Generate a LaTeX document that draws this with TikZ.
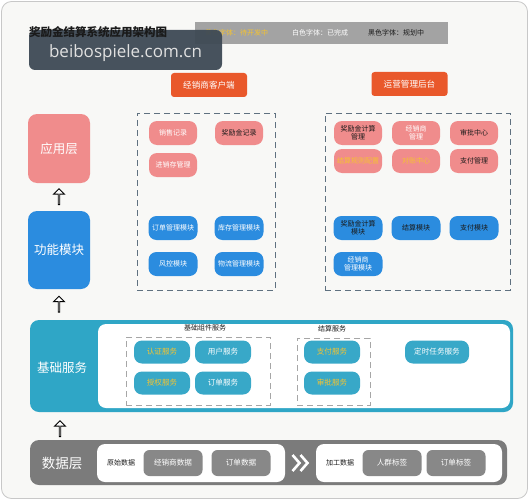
\documentclass[tikz,border=0pt]{standalone}
\usepackage{fontspec}
\setmainfont{Noto Sans CJK SC}
\newfontfamily\wmfont{Open Sans}
\usetikzlibrary{shapes.arrows,calc}
\definecolor{bgc}{HTML}{F8F8F6}
\definecolor{framec}{HTML}{C8C8C8}
\definecolor{pinkc}{HTML}{F08C8C}
\definecolor{bluec}{HTML}{2B8CDF}
\definecolor{tealc}{HTML}{2FA6C6}
\definecolor{svc}{HTML}{38A8C8}
\definecolor{grayc}{HTML}{7B7B7B}
\definecolor{dgray}{HTML}{888888}
\definecolor{orangec}{HTML}{E9582B}
\definecolor{dashc}{HTML}{5F7180}
\definecolor{yellowc}{HTML}{F5C330}
\definecolor{legendc}{HTML}{A3A3A3}
\definecolor{wmc}{HTML}{3E4A55}
\definecolor{txtc}{HTML}{1A1A1A}
\tikzset{
  small/.style={font=\fontsize{7}{8.2}\selectfont},
  pinknode/.style={small, fill=pinkc, rounded corners=8pt, minimum width=48pt, minimum height=24pt, align=center},
  bluenode/.style={small, fill=bluec, rounded corners=8pt, minimum width=49pt, minimum height=24pt, align=center},
  svnode/.style={font=\fontsize{7.6}{9}\selectfont, fill=svc, rounded corners=8pt, minimum width=56pt, minimum height=23pt, align=center},
  datanode/.style={font=\fontsize{7.6}{9}\selectfont, fill=dgray, rounded corners=6pt, minimum width=59pt, minimum height=26pt, text=white},
  dashbox/.style={draw=dashc, dash pattern=on 6pt off 4pt, line width=0.8pt},
  hdr/.style={fill=orangec, rounded corners=3pt, text=white, font=\fontsize{8.6}{10}\selectfont, minimum height=24pt},
  layer/.style={rounded corners=9pt, text=white, font=\fontsize{12.5}{14}\selectfont},
  uparrow/.style={single arrow, draw=black, fill=white, line width=0.9pt, shape border rotate=90, minimum height=16pt, minimum width=11pt, single arrow head extend=3pt, inner sep=0pt},
  wt/.style={text=white}, yt/.style={text=yellowc}, bt/.style={text=txtc}
}
\begin{document}
\begin{tikzpicture}[x=1pt,y=-1pt, every node/.style={inner sep=0pt}]
\useasboundingbox (0,0) rectangle (529,500);
\draw[framec, fill=bgc, rounded corners=10pt, line width=0.8pt] (1.5,1.5) rectangle (527.5,498.5);

% title and legend
\node[fill=legendc, minimum width=253pt, minimum height=22pt] (legend) at (321.5,33) {};
\node[anchor=west, small, text=yellowc] (lg1) at (205,33) {黄色字体：待开发中};
\node[anchor=west, small, text=white] (lg2) at (292,33) {白色字体：已完成};
\node[anchor=west, small, text=txtc] (lg3) at (368,33) {黑色字体：规划中};
\node[fill=wmc, fill opacity=0.95, rounded corners=6pt, minimum width=193pt, minimum height=40pt] (wm) at (125.5,50) {};
\node[anchor=west, font=\fontsize{11.5}{12}\selectfont\bfseries, text=txtc] (title) at (29,32) {奖励金结算系统应用架构图};
\node[text=white!88!black, font=\wmfont\fontsize{17}{18}\selectfont] (wmt) at (125.5,53) {beibospiele.com.cn};

% headers
\node[hdr, minimum width=76pt] (h1) at (209,85) {经销商客户端};
\node[hdr, minimum width=76pt] (h2) at (409.5,84) {运营管理后台};

% dashed boxes
\node[dashbox, minimum width=138pt, minimum height=177pt] (lbox) at (206,201.5) {};
\node[dashbox, minimum width=185pt, minimum height=177pt] (rbox) at (417.5,201.5) {};

% layers
\node[layer, fill=pinkc, minimum width=62pt, minimum height=69pt] (app) at (59,148.5) {应用层};
\node[layer, fill=bluec, minimum width=62pt, minimum height=78pt] (func) at (59,250) {功能模块};
\node[rounded corners=9pt, fill=tealc, minimum width=483pt, minimum height=92pt] (base) at (271.5,366) {};
\node[text=white, font=\fontsize{12.5}{14}\selectfont] (basel) at (62,368) {基础服务};
\node[rounded corners=8pt, fill=white, minimum width=412pt, minimum height=84pt] (basein) at (304,366) {};
\node[rounded corners=9pt, fill=grayc, minimum width=477pt, minimum height=45pt] (data) at (268.5,462.5) {};
\node[text=white, font=\fontsize{13.5}{15}\selectfont] (datal) at (62,463) {数据层};

% arrows between layers
\node[uparrow] (a1) at ($(app.south)!0.5!(func.north)$) {};
\node[uparrow] (a2) at ($(func.south)!0.5!(base.north -| func.south)$) {};
\node[uparrow] (a3) at (60,429) {};

% app layer nodes (left)
\node[pinknode, wt] (p1) at (173,133) {销售记录};
\node[pinknode, bt] (p2) at (239,133) {奖励金记录};
\node[pinknode, wt] (p3) at (173,165) {进销存管理};
% app layer nodes (right)
\node[pinknode, bt] (q1) at (358,133) {奖励金计算\\管理};
\node[pinknode, wt] (q2) at (416,133) {经销商\\管理};
\node[pinknode, bt] (q3) at (474,133) {审批中心};
\node[pinknode, yt] (q4) at (358,161) {结算规则配置};
\node[pinknode, yt] (q5) at (416,161) {对账中心};
\node[pinknode, bt] (q6) at (474,161) {支付管理};

% function nodes (left)
\node[bluenode, wt] (b1) at (173,228) {订单管理模块};
\node[bluenode, wt] (b2) at (239,228) {库存管理模块};
\node[bluenode, wt] (b3) at (173,264) {风控模块};
\node[bluenode, wt] (b4) at (239,264) {物流管理模块};
% function nodes (right)
\node[bluenode, bt] (c1) at (358,228) {奖励金计算\\模块};
\node[bluenode, bt] (c2) at (416,228) {结算模块};
\node[bluenode, bt] (c3) at (474,228) {支付模块};
\node[bluenode, wt] (c4) at (358,264) {经销商\\管理模块};

% base services
\node[small, text=txtc] (g1l) at (205,328) {基础组件服务};
\node[dashbox, draw=gray!70, line width=0.7pt, minimum width=144pt, minimum height=68pt] (g1) at (198,371) {};
\node[svnode, yt] (s1) at (162,352) {认证服务};
\node[svnode, wt] (s2) at (223,352) {用户服务};
\node[svnode, yt] (s3) at (162,383) {授权服务};
\node[svnode, wt] (s4) at (223,383) {订单服务};
\node[small, text=txtc] (g2l) at (332,329) {结算服务};
\node[dashbox, draw=gray!70, line width=0.7pt, minimum width=73pt, minimum height=67pt] (g2) at (333.5,371.5) {};
\node[svnode, yt] (s5) at (332,352) {支付服务};
\node[svnode, yt] (s6) at (332,383) {审批服务};
\node[svnode, wt, minimum width=64pt] (s7) at (437,352) {定时任务服务};

% data layer
\node[rounded corners=8pt, fill=white, minimum width=188pt, minimum height=38pt] (w1) at (191,463) {};
\node[rounded corners=8pt, fill=white, minimum width=186pt, minimum height=38pt] (w2) at (409,463) {};
\node[small, text=txtc] (raw) at (121,463) {原始数据};
\node[datanode] (d1) at (173,463) {经销商数据};
\node[datanode] (d2) at (241,463) {订单数据};
\node[small, text=txtc] (proc) at (340,463) {加工数据};
\node[datanode] (d3) at (392,463) {人群标签};
\node[datanode] (d4) at (456,463) {订单标签};
\coordinate (chev) at ($(w1.east)!0.5!(w2.west)$);
\draw[white, line width=2.6pt] ($(chev)+(-8,-8)$) -- ($(chev)+(-1,0)$) -- ($(chev)+(-8,8)$);
\draw[white, line width=2.6pt] ($(chev)+(0,-8)$) -- ($(chev)+(7,0)$) -- ($(chev)+(0,8)$);
\end{tikzpicture}
\end{document}
